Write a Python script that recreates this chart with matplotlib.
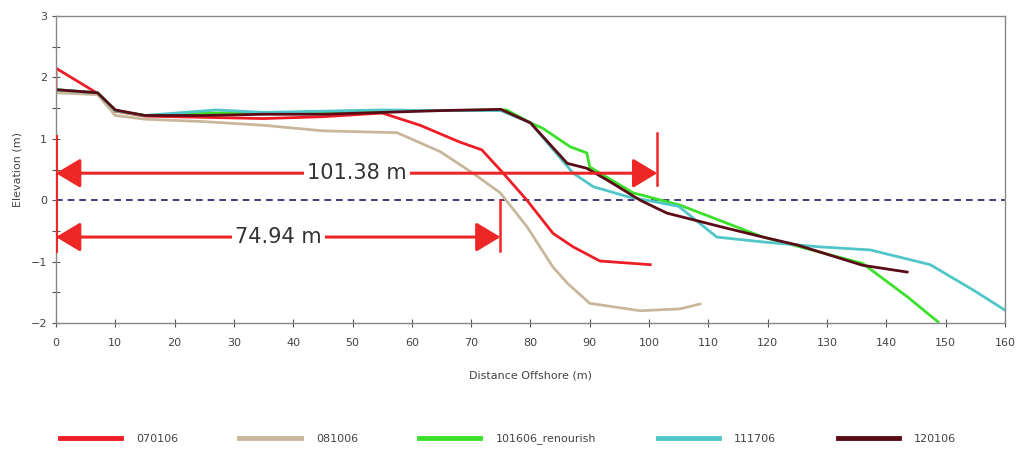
import matplotlib
matplotlib.use("Agg")
import matplotlib.pyplot as plt
from matplotlib.patches import FancyArrowPatch

# ─── profile data (distance offshore m, elevation m) ───
x_070106 = [0, 0, 7, 10, 15, 25, 35, 45, 55, 61.4, 68, 71.8, 75.4, 79.4, 83.8, 87.2, 91.7, 100.2]
z_070106 = [1.78, 2.15, 1.74, 1.45, 1.37, 1.35, 1.33, 1.36, 1.42, 1.22, 0.95, 0.82, 0.44, 0.0, -0.54, -0.76, -0.99, -1.05]

x_081006 = [0, 7, 10, 15, 25, 35, 45, 57.5, 64.8, 70.3, 74.9, 79.4, 83.8, 86.2, 90, 98.5, 105.2, 108.6]
z_081006 = [1.75, 1.72, 1.38, 1.32, 1.28, 1.22, 1.13, 1.1, 0.79, 0.44, 0.12, -0.43, -1.09, -1.35, -1.68, -1.8, -1.77, -1.69]

x_101606 = [0, 7, 10, 15, 25, 35, 45, 55, 65, 76, 80, 82.1, 86.7, 89.5, 90, 97.3, 105.2, 119.2, 136, 143.5, 148.7]
z_101606 = [1.8, 1.75, 1.46, 1.38, 1.42, 1.42, 1.44, 1.46, 1.46, 1.47, 1.26, 1.17, 0.87, 0.77, 0.54, 0.12, -0.08, -0.6, -1.03, -1.57, -1.98]

x_111706 = [0, 7, 10, 15, 27, 35, 45, 55, 65, 75, 80, 87.2, 90.6, 96.3, 105, 111.4, 119.2, 128.8, 137.3, 147.4, 154.6, 160]
z_111706 = [1.8, 1.75, 1.46, 1.38, 1.47, 1.43, 1.45, 1.47, 1.46, 1.46, 1.26, 0.44, 0.22, 0.06, -0.1, -0.6, -0.68, -0.76, -0.81, -1.05, -1.46, -1.79]

x_120106 = [0, 7, 10, 15, 25, 35, 45, 55, 65, 75, 80, 86.2, 89.5, 92.9, 98.5, 103, 112, 119.2, 125, 136, 143.5]
z_120106 = [1.8, 1.75, 1.47, 1.38, 1.38, 1.4, 1.4, 1.43, 1.46, 1.48, 1.26, 0.6, 0.52, 0.33, 0.0, -0.21, -0.43, -0.6, -0.73, -1.06, -1.17]

series = [
    ("070106", x_070106, z_070106, "#EE1D25"),
    ("081006", x_081006, z_081006, "#C9B79C"),
    ("101606_renourish", x_101606, z_101606, "#3BE02A"),
    ("111706", x_111706, z_111706, "#4FC6C8"),
    ("120106", x_120106, z_120106, "#5B0B16"),
]

# shoreline distances to the zero contour
dist_upper = 101.38
dist_lower = 74.94
y_upper = 0.44
y_lower = -0.6

ARROW_RED = "#EE2626"

fig = plt.figure(figsize=(10.24, 4.5), dpi=100)
ax = fig.add_axes([0.0547, 0.2822, 0.9267, 0.6822])

for name, xs, zs, col in series:
    ax.plot(xs, zs, color=col, linewidth=2.0, label=name, solid_joinstyle="round")

ax.axhline(0, color="#1C1C6A", linewidth=1.2, linestyle=(0, (4, 3)), zorder=1)


def distance_arrow(x_end, y, label, bar_top, bar_bot):
    arrow = FancyArrowPatch((0, y), (x_end, y), arrowstyle="<|-|>,head_length=0.75,head_width=0.45",
                            mutation_scale=20, color=ARROW_RED, linewidth=2.2,
                            shrinkA=0, shrinkB=0, zorder=5)
    ax.add_patch(arrow)
    ax.plot([x_end, x_end], [bar_top, bar_bot], color=ARROW_RED, linewidth=1.8, zorder=5)
    ax.text(x_end / 2, y, label, ha="center", va="center", fontsize=15, color="#333333",
            zorder=6, bbox=dict(boxstyle="square,pad=0.15", facecolor="white", edgecolor="none"))


distance_arrow(dist_upper, y_upper, f"{dist_upper:.2f} m", 1.1, 0.25)
distance_arrow(dist_lower, y_lower, f"{dist_lower:.2f} m", 0.0, -0.82)
# common origin bar at the baseline
ax.plot([0, 0], [1.05, -0.82], color=ARROW_RED, linewidth=2.2, zorder=5)

ax.set_xlim(0, 160)
ax.set_ylim(-2, 3)
ax.set_xticks(range(0, 161, 10))
ax.set_yticks(range(-2, 4))
ax.set_yticks([-1.5, -0.5, 0.5, 1.5, 2.5], minor=True)
ax.tick_params(axis="both", which="both", direction="inout", length=6, width=0.8,
               colors="#555555", labelsize=8, labelcolor="#444444")
ax.tick_params(axis="x", pad=8)
for sp in ax.spines.values():
    sp.set_color("#888888")
    sp.set_linewidth(1.0)

ax.set_xlabel("Distance Offshore (m)", fontsize=8, color="#444444", labelpad=16)
ax.set_ylabel("Elevation (m)", fontsize=8, color="#444444", labelpad=6)

leg = fig.legend(loc="lower center", bbox_to_anchor=(0.496, -0.01), ncol=5, frameon=False,
                 fontsize=8, handlelength=5.5, columnspacing=5.5, handletextpad=1.4)
for line in leg.get_lines():
    line.set_linewidth(3.5)
for t in leg.get_texts():
    t.set_color("#444444")

fig.savefig("out.png", dpi=100)
